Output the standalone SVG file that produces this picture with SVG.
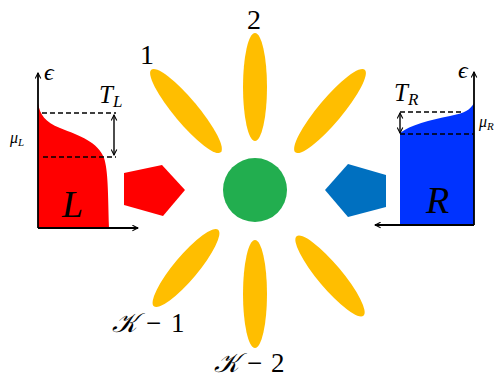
<svg xmlns="http://www.w3.org/2000/svg" width="504" height="379" viewBox="0 0 504 379">
<style>
.petal{fill:#FFBE00}
.ax{stroke:#000;stroke-width:1.8;fill:none}
.dash{stroke:#000;stroke-width:1.4;stroke-dasharray:5,3;fill:none}
.dbl{stroke:#000;stroke-width:1.4;fill:none}
.t{font-family:"Liberation Serif","DejaVu Serif",serif;fill:#000}
.i{font-style:italic}
</style>
<defs>
<marker id="ah" viewBox="0 0 10 10" refX="9" refY="5" markerWidth="7" markerHeight="7" orient="auto-start-reverse" markerUnits="userSpaceOnUse">
<path d="M1,1 L9,5 L1,9" fill="none" stroke="#000" stroke-width="1.5"/>
</marker>
</defs>
<g id="petals">
<ellipse id="petal-2" class="petal" cx="255" cy="87" rx="12" ry="54"/>
<ellipse id="petal-1" class="petal" cx="186" cy="111" rx="12" ry="54" transform="rotate(-40 186 111)"/>
<ellipse id="petal-3" class="petal" cx="330" cy="111" rx="12" ry="54" transform="rotate(40 330 111)"/>
<ellipse id="petal-K2" class="petal" cx="255" cy="294" rx="12" ry="54"/>
<ellipse id="petal-K1" class="petal" cx="186" cy="268" rx="12" ry="50" transform="rotate(40 186 268)"/>
<ellipse id="petal-K3" class="petal" cx="330" cy="276" rx="12" ry="52" transform="rotate(-40 330 276)"/>
</g>
<g id="center"><circle cx="255" cy="190" r="32" fill="#22AE4F"/></g>
<g id="pent-L"><polygon points="124,173 162,165 185,190 163,216 124,205" fill="#FF0000"/></g>
<g id="pent-R"><polygon points="325,190 348,164 386,175 386,207 348,217" fill="#0070C0"/></g>
<g id="lead-L">
<path d="M38,228 L38,103 C40,115 45,122 60,128 C80,136 98,142 104,158 C108,170 108,190 109,228 Z" fill="#FF0000"/>
<text class="t i" x="62" y="217" font-size="38">L</text>
</g>
<g id="lead-R">
<path d="M400,225 L400,133 C410,125 430,120 450,116 C465,113 470,110 474,103 L474,225 Z" fill="#0033FF"/>
<text class="t i" x="426" y="213" font-size="38">R</text>
</g>
<g id="connectors">
<line class="ax" x1="38" y1="228" x2="38" y2="73" marker-end="url(#ah)"/>
<line class="ax" x1="38" y1="228" x2="138" y2="228" marker-end="url(#ah)"/>
<line class="dash" x1="42" y1="113" x2="116" y2="113"/>
<line class="dash" x1="43" y1="157" x2="116" y2="157"/>
<line class="dbl" x1="114" y1="115" x2="114" y2="155" marker-start="url(#ah)" marker-end="url(#ah)"/>
<line class="ax" x1="474" y1="225" x2="474" y2="72" marker-end="url(#ah)"/>
<line class="ax" x1="474" y1="225" x2="375" y2="225" marker-end="url(#ah)"/>
<line class="dash" x1="400" y1="112" x2="464" y2="112"/>
<line class="dash" x1="400" y1="134" x2="474" y2="134"/>
<line class="dbl" x1="400" y1="113" x2="400" y2="133" marker-start="url(#ah)" marker-end="url(#ah)"/>
</g>
<g id="labels">
<text class="t i" x="44" y="80" font-size="24">ϵ</text>
<text class="t i" x="99" y="103" font-size="25">T<tspan font-size="17" dy="4">L</tspan></text>
<text class="t i" x="10" y="143" font-size="16">μ<tspan font-size="11" dy="3">L</tspan></text>
<text class="t i" x="458" y="78" font-size="24">ϵ</text>
<text class="t i" x="394" y="101" font-size="25">T<tspan font-size="17" dy="4">R</tspan></text>
<text class="t i" x="479" y="127" font-size="16">μ<tspan font-size="11" dy="3">R</tspan></text>
<text class="t" x="140" y="64" font-size="28">1</text>
<text class="t" x="247" y="29" font-size="28">2</text>
<text class="t" x="112" y="332" font-size="27"><tspan class="i">𝒦</tspan><tspan x="146">−</tspan><tspan x="171">1</tspan></text>
<text class="t" x="214" y="372" font-size="27"><tspan class="i">𝒦</tspan><tspan x="247">−</tspan><tspan x="271">2</tspan></text>
</g>
</svg>
